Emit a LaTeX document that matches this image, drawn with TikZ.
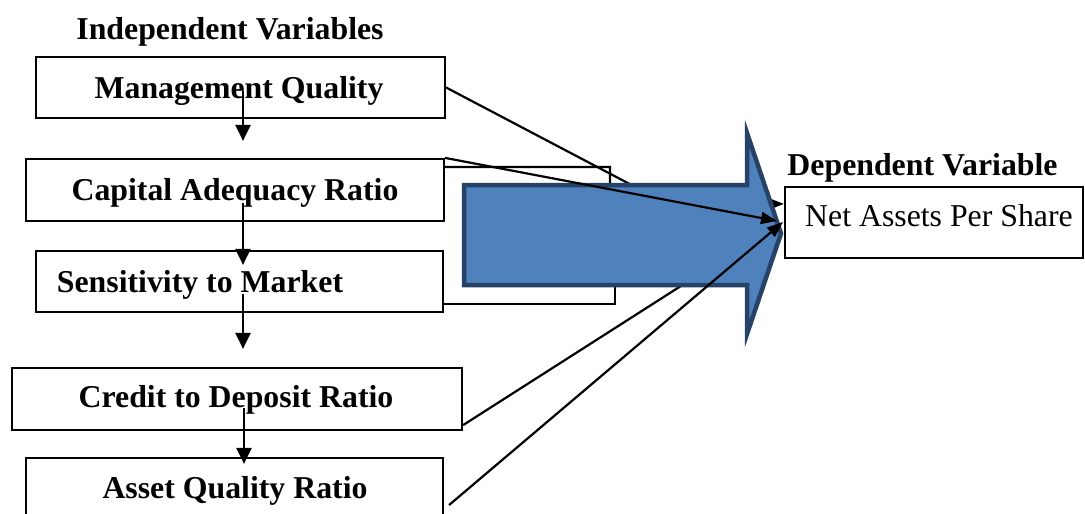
\documentclass[tikz,border=0pt]{standalone}
\usepackage{fontspec}
\setmainfont{Liberation Serif}
\usetikzlibrary{arrows.meta,calc}
\definecolor{arrowfill}{RGB}{79,129,189}
\definecolor{arrowedge}{RGB}{38,66,102}

\begin{document}
\begin{tikzpicture}[x=1pt,y=-1pt,
  box/.style={draw, line width=2.2pt, inner sep=0pt, fill=white},
  lbl/.style={inner sep=0pt, anchor=base, font=\fontsize{31.8pt}{36pt}\selectfont\bfseries},
  plain/.style={inner sep=0pt, anchor=base, font=\fontsize{31.8pt}{36pt}\selectfont},
  vflow/.style={line width=2.2pt, -{Triangle[length=16pt,width=15pt]}},
  link/.style={line width=2.2pt, -{Triangle[length=16pt,width=12pt]}},
  hidden/.style={line width=2.2pt},
  bigarrow/.style={fill=arrowfill, draw=arrowedge, line width=4.5pt, line join=miter}]

\useasboundingbox (0,0) rectangle (1085,514);
\clip (0,0) rectangle (1085,514);

% column of independent variables
\node[box, minimum width=409pt, minimum height=61pt] (MQ) at (240.5,87.5) {};
\node[box, minimum width=418pt, minimum height=62pt] (CA) at (235,190) {};
\node[box, minimum width=407pt, minimum height=61pt] (SM) at (239.5,281.5) {};
\node[box, minimum width=450pt, minimum height=62pt] (CD) at (237,399) {};
\node[box, minimum width=417pt, minimum height=60pt] (AQ) at (234.5,488) {};

% dependent variable box
\node[box, minimum width=298pt, minimum height=71pt] (NA) at (934,222.5) {};

% headings and box texts
\node[lbl] (IVt) at (230,39) {Independent Variables};
\node[lbl] (MQt) at (239,98) {Management Quality};
\node[lbl] (CAt) at (235,200) {Capital Adequacy Ratio};
\node[lbl] (SMt) at (200,292) {Sensitivity to Market};
\node[lbl] (CDt) at (236,407) {Credit to Deposit Ratio};
\node[lbl] (AQt) at (235,498) {Asset Quality Ratio};
\node[lbl] (DVt) at (922.5,175) {Dependent Variable};
\node[plain] (NAt) at (939,226) {Net Assets Per Share};

% vertical chain
\coordinate (col) at (243,0);
\draw[vflow] ($(MQ.south -| col)+(0,-28)$) -- ($(CA.north -| col)+(0,-17)$);
\draw[vflow] ($(CA.south -| col)+(0,-19)$) -- ($(SM.north -| col)+(0,15)$);
\draw[vflow] ($(SM.south -| col)+(0,-19)$) -- ($(CD.north -| col)+(0,-18)$);
\draw[vflow] ($(CD.south -| col)+(1,-23)$) -- ($(AQ.north -| col)+(1,7)$);

% connectors running behind the block arrow
\coordinate (h1) at (700,221);
\coordinate (h3) at (720,261);
\coordinate (h4) at (615,250);
\draw[hidden] (MQ.east) -- (h1);
\draw[hidden] ($(CD.south east)+(0,-6)$) -- (h3);
\draw[link] ($(CA.north east)+(0,9)$) -| (610,205) -- ($(NA.north west)+(0,18)$);
\draw[hidden] ($(SM.south east)+(0,-9)$) -| (h4);

% block arrow
\draw[bigarrow] (464,185) -- (747,185) -- (747,133) -- (781,233.5)
  -- (747,334) -- (747,285) -- (464,285) -- cycle;

% connectors drawn over the block arrow
\draw[link] (CA.north east) -- (777,221);
\draw[link] ($(AQ.east)+(5,17)$) -- (783,222);

\end{tikzpicture}
\end{document}
